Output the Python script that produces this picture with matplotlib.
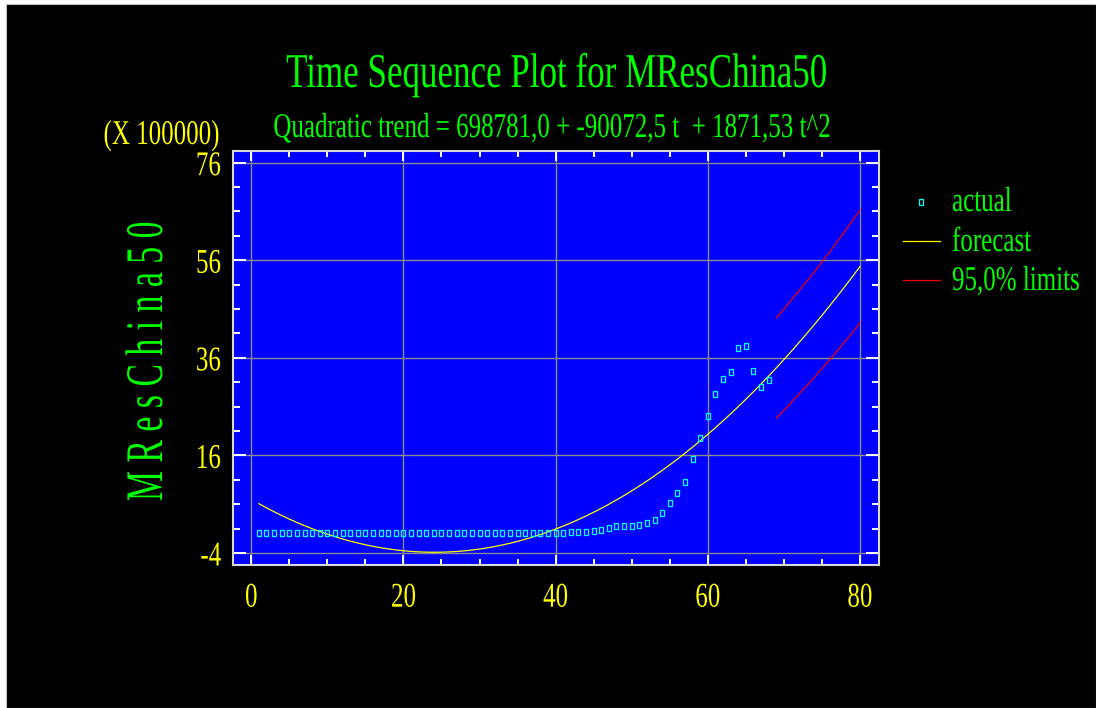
import numpy as np
import matplotlib
matplotlib.use("Agg")
import matplotlib.pyplot as plt
from matplotlib.patheffects import AbstractPathEffect
from matplotlib.transforms import Affine2D
from matplotlib.lines import Line2D
from matplotlib.patches import Rectangle
from matplotlib.ticker import FixedLocator

# ---- data (values in units of 100000) ----
actual_t = list(range(1, 69))
actual_values = [
    0.0, 0.0, 0.0, 0.0, 0.0, 0.0, 0.0, 0.0, 0.0, 0.0,
    0.0, 0.0, 0.0, 0.0, 0.0, 0.0, 0.0, 0.0, 0.0, 0.0,
    0.0, 0.0, 0.0, 0.0, 0.0, 0.0, 0.0, 0.0, 0.0, 0.0,
    0.0, 0.0, 0.2, 0.2, 0.2, 0.05, 0.05, 0.05, 0.05, 0.15,
    0.15, 0.3, 0.25, 0.35, 0.5, 0.75, 1.05, 1.45, 1.45, 1.6,
    1.75, 2.25, 2.85, 4.1, 6.15, 8.2, 10.6, 15.2, 19.5, 24.0,
    28.5, 31.7, 33.0, 38.1, 38.5, 33.4, 30.0, 31.5,
]

# quadratic trend coefficients (raw units): b0 + b1*t + b2*t^2
trend_b0 = 698781.0
trend_b1 = -90072.5
trend_b2 = 1871.53
trend_scale = 100000.0
forecast_t = list(range(1, 81))

limit_t = list(range(69, 81))
upper_limit = [44.2, 46.0, 47.9, 49.8, 51.7, 53.6, 55.6, 57.7, 59.8, 61.9, 64.1, 66.3]
lower_limit = [23.6, 25.2, 26.9, 28.6, 30.3, 32.0, 33.8, 35.6, 37.4, 39.3, 41.2, 43.1]

x_ticks = [0, 20, 40, 60, 80]
y_ticks = [-4, 16, 36, 56, 76]

title_text = "Time Sequence Plot for MResChina50"
subtitle_text = "Quadratic trend = 698781,0 + -90072,5 t  + 1871,53 t^2"
y_label_text = "M R e s C h i n a 5 0"
scale_text = "(X 100000)"
legend_labels = ["actual", "forecast", "95,0% limits"]

# ---- colours ----
BLUE = "#0000ff"
GREEN = "#00ff00"
YELLOW = "#ffff00"
CYAN = "#00ffff"
RED = "#ee0000"
GRID = "#8a8a8a"
FRAME = "#d8d8d8"


class Condensed(AbstractPathEffect):
    """Narrow the glyph outlines horizontally around an anchor."""

    def __init__(self, factor=0.72, anchor="center"):
        super().__init__()
        self._factor = factor
        self._anchor = anchor

    def draw_path(self, renderer, gc, tpath, affine, rgbFace=None):
        if len(tpath.vertices) == 0:
            return
        ext = tpath.get_extents()
        if self._anchor == "left":
            cx = 0.0
        elif self._anchor == "right":
            cx = ext.x1
        else:
            cx = 0.5 * (ext.x0 + ext.x1)
        squeeze = Affine2D().translate(-cx, 0).scale(self._factor, 1.0).translate(cx, 0)
        renderer.draw_path(gc, tpath, squeeze + affine, rgbFace)


SQ = 0.72
plt.rcParams["font.family"] = ["Liberation Serif", "DejaVu Serif"]
plt.rcParams["axes.unicode_minus"] = False

W, H = 1096, 708
fig = plt.figure(figsize=(W / 100, H / 100), dpi=100, facecolor="white")


def fx(px):
    return px / W


def fy(py):
    return 1 - py / H


# black backdrop
fig.add_artist(Rectangle((fx(6), 0), 1 - fx(6), fy(4), transform=fig.transFigure,
                         facecolor="black", edgecolor="#c0c0c0", linewidth=0.8, zorder=-10))

ax = fig.add_axes([fx(233), fy(565), (879 - 233) / W, (565 - 151) / H])
ax.set_facecolor(BLUE)
ax.set_xlim(-2.4, 82.5)
ax.set_ylim(-6.46, 78.4)

t_fc = np.array(forecast_t, dtype=float)
forecast = np.polyval([trend_b2, trend_b1, trend_b0], t_fc) / trend_scale

ax.plot(forecast_t, forecast, color=YELLOW, lw=0.9, zorder=3)
ax.plot(limit_t, upper_limit, color=RED, lw=0.9, zorder=3)
ax.plot(limit_t, lower_limit, color=RED, lw=0.9, zorder=3)

rect_marker = [(-0.35, -0.5), (0.35, -0.5), (0.35, 0.5), (-0.35, 0.5), (-0.35, -0.5)]
ax.plot(actual_t, actual_values, ls="none", marker=rect_marker, ms=4.4,
        mfc="none", mec=CYAN, mew=0.9, zorder=4)

ax.xaxis.set_major_locator(FixedLocator(x_ticks))
ax.yaxis.set_major_locator(FixedLocator(y_ticks))
ax.xaxis.set_minor_locator(FixedLocator(np.arange(0, 81, 5)))
ax.yaxis.set_minor_locator(FixedLocator(np.arange(-4, 77, 5)))
ax.grid(True, which="major", color=GRID, lw=1.0, zorder=1)
ax.set_axisbelow(True)

for sp in ax.spines.values():
    sp.set_color(FRAME)
    sp.set_linewidth(1.5)

ax.tick_params(which="both", direction="in", color="white", width=1.4,
               top=True, right=True, labelcolor=YELLOW, labelsize=25)
ax.tick_params(axis="x", which="major", length=7.5, pad=12)
ax.tick_params(axis="x", which="minor", length=4)
ax.tick_params(axis="y", which="major", length=9.5, pad=8.5)
ax.tick_params(axis="y", which="minor", length=5)

plt.setp(ax.get_xticklabels(), path_effects=[Condensed(SQ, "center")])
plt.setp(ax.get_yticklabels(), path_effects=[Condensed(SQ, "right")])

# titles
fig.text(fx(557), fy(87), title_text, ha="center", va="baseline", fontsize=35,
         color=GREEN, path_effects=[Condensed(SQ, "center")])
fig.text(fx(553), fy(137), subtitle_text, ha="center", va="baseline", fontsize=25,
         color=GREEN, path_effects=[Condensed(SQ, "center")])
fig.text(fx(220), fy(144), scale_text, ha="right", va="baseline", fontsize=25,
         color=YELLOW, path_effects=[Condensed(SQ, "right")])
fig.text(fx(149), fy(361), y_label_text, ha="center", va="center", rotation=90,
         fontsize=38, color=GREEN, path_effects=[Condensed(0.64, "center")])

# legend
fig.add_artist(Line2D([fx(921)], [fy(202)], ls="none", marker=rect_marker, ms=4.4,
                      mfc="none", mec=CYAN, mew=0.9, transform=fig.transFigure))
fig.add_artist(Line2D([fx(903), fx(940)], [fy(241), fy(241)], color=YELLOW, lw=0.9,
                      transform=fig.transFigure))
fig.add_artist(Line2D([fx(903), fx(940)], [fy(280), fy(280)], color=RED, lw=0.9,
                      transform=fig.transFigure))
for label, base in zip(legend_labels, [211, 251, 290]):
    fig.text(fx(952), fy(base), label, ha="left", va="baseline", fontsize=25,
             color=GREEN, path_effects=[Condensed(SQ, "left")])

fig.savefig("out.png", dpi=100, facecolor=fig.get_facecolor())
